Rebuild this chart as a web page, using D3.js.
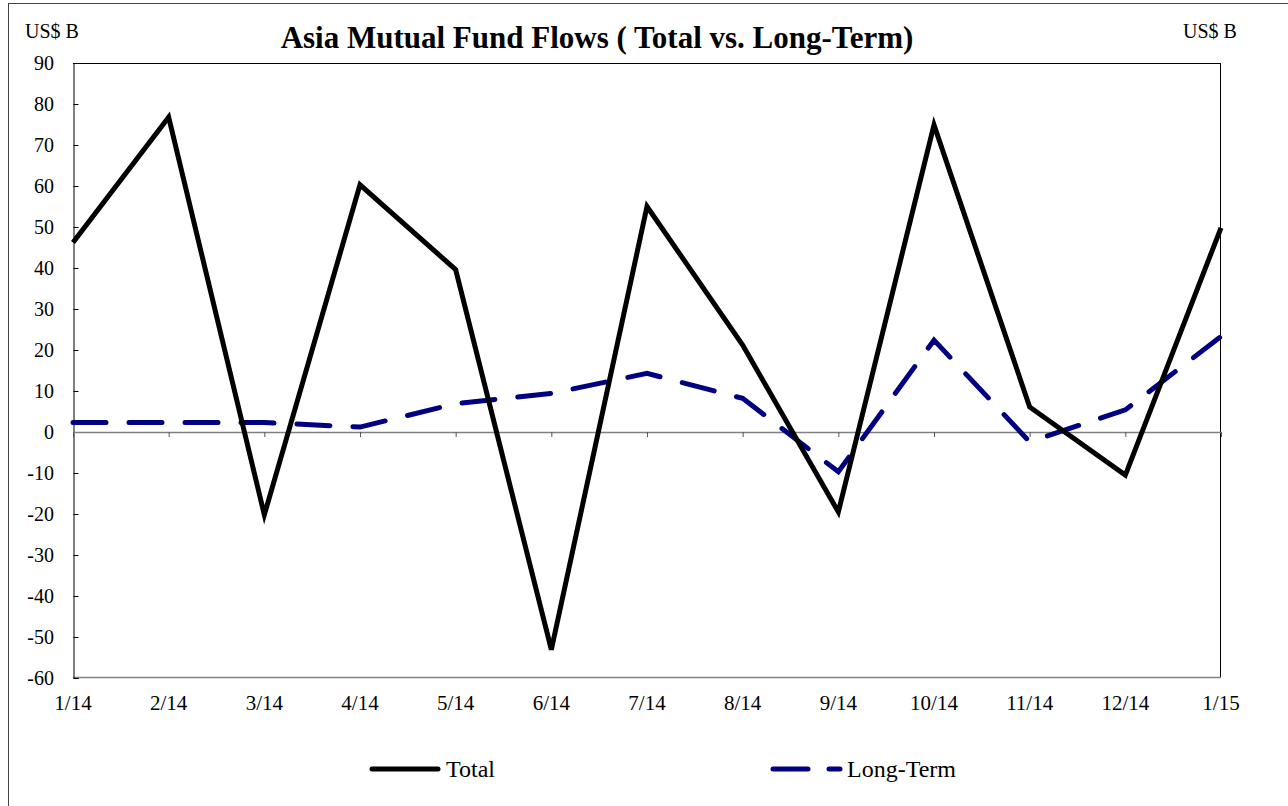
<!DOCTYPE html>
<html>
<head>
<meta charset="utf-8">
<script src="https://cdn.jsdelivr.net/npm/d3@7"></script>
<style>
  body { margin: 0; background: #fff; }
  text { font-family: "Liberation Serif", "Times New Roman", serif; }
</style>
</head>
<body>
<div id="chart"></div>
<script>
// data
const months = ["1/14", "2/14", "3/14", "4/14", "5/14", "6/14", "7/14", "8/14", "9/14", "10/14", "11/14", "12/14", "1/15"];
const total = [46.2, 76.8, -20.2, 60.3, 39.6, -53.1, 55, 21.2, -19.5, 74.9, 6.1, -10.5, 49.8];
const longTerm = [2.3, 2.3, 2.3, 1.2, 6.9, 9.4, 14.3, 8.2, -9.7, 22.4, -2.4, 5.4, 23.3];
const yTicks = [90, 80, 70, 60, 50, 40, 30, 20, 10, 0, -10, -20, -30, -40, -50, -60];

const width = 1288, height = 806;
const plotLeft = 73, plotRight = 1221, plotTop = 63, plotBottom = 678;

const svg = d3.select("#chart")
  .append("svg")
  .attr("width", width)
  .attr("height", height);

// outer frame (runs off the right and bottom edge in the original)
svg.append("rect")
  .attr("x", 8.5).attr("y", 3.5)
  .attr("width", 1300).attr("height", 820)
  .attr("fill", "none")
  .attr("stroke", "#444")
  .attr("stroke-width", 1);

const x = d3.scalePoint()
  .domain(months)
  .range([plotLeft, plotRight]);

const y = d3.scaleLinear()
  .domain([-60, 90])
  .range([plotBottom, plotTop]);

// plot area border
svg.append("line").attr("x1", plotLeft).attr("x2", plotRight).attr("y1", plotTop + 0.5).attr("y2", plotTop + 0.5).attr("stroke", "#000");
svg.append("line").attr("x1", plotRight - 0.5).attr("x2", plotRight - 0.5).attr("y1", plotTop).attr("y2", plotBottom).attr("stroke", "#000");
svg.append("line").attr("x1", plotLeft).attr("x2", plotRight).attr("y1", plotBottom - 0.5).attr("y2", plotBottom - 0.5).attr("stroke", "#808080").attr("stroke-width", 1.5);

// y axis, ticks pointing inward
const yAxis = svg.append("g")
  .attr("transform", `translate(${plotLeft + 0.5},0)`)
  .call(d3.axisRight(y).tickValues(yTicks).tickSize(5).tickFormat(""));
yAxis.select(".domain").attr("stroke", "#000");
yAxis.selectAll(".tick line").attr("stroke", "#000");

svg.selectAll(".ylab")
  .data(yTicks)
  .join("text")
  .attr("class", "ylab")
  .attr("x", 54)
  .attr("y", d => y(d))
  .attr("dy", "0.35em")
  .attr("text-anchor", "end")
  .style("font-size", "20px")
  .text(d => d);

// zero line with category ticks hanging below
const xAxis = svg.append("g")
  .attr("transform", `translate(0,${y(0)})`)
  .call(d3.axisBottom(x).tickSize(5).tickSizeOuter(0).tickFormat(""));
xAxis.select(".domain").attr("stroke", "#808080").attr("stroke-width", 1.5);
xAxis.selectAll(".tick line").attr("stroke", "#555");

svg.selectAll(".xlab")
  .data(months)
  .join("text")
  .attr("class", "xlab")
  .attr("x", d => x(d))
  .attr("y", 703)
  .attr("dy", "0.35em")
  .attr("text-anchor", "middle")
  .style("font-size", "21px")
  .text(d => d);

const line = d3.line()
  .x((d, i) => x(months[i]))
  .y(d => y(d));

svg.append("path")
  .datum(longTerm)
  .attr("d", line)
  .attr("fill", "none")
  .attr("stroke", "#000080")
  .attr("stroke-width", 5)
  .attr("stroke-linecap", "round")
  .attr("stroke-dasharray", "33 23");

svg.append("path")
  .datum(total)
  .attr("d", line)
  .attr("fill", "none")
  .attr("stroke", "#000")
  .attr("stroke-width", 5)
  .attr("stroke-linejoin", "miter");

// title and unit labels
svg.append("text")
  .attr("x", 597).attr("y", 48)
  .attr("text-anchor", "middle")
  .style("font-size", "31px")
  .style("font-weight", "bold")
  .text("Asia Mutual Fund Flows ( Total vs. Long-Term)");

svg.append("text").attr("x", 25).attr("y", 38).style("font-size", "20px").text("US$ B");
svg.append("text").attr("x", 1183).attr("y", 38).style("font-size", "20px").text("US$ B");

// legend
const legend = svg.append("g");
legend.append("line")
  .attr("x1", 372).attr("x2", 438).attr("y1", 769).attr("y2", 769)
  .attr("stroke", "#000").attr("stroke-width", 5).attr("stroke-linecap", "round");
legend.append("text").attr("x", 446).attr("y", 769).attr("dy", "0.35em").style("font-size", "24px").text("Total");
legend.append("line")
  .attr("x1", 773).attr("x2", 840).attr("y1", 769).attr("y2", 769)
  .attr("stroke", "#000080").attr("stroke-width", 5).attr("stroke-linecap", "round")
  .attr("stroke-dasharray", "35 21");
legend.append("text").attr("x", 847).attr("y", 769).attr("dy", "0.35em").style("font-size", "24px").text("Long-Term");
</script>
</body>
</html>
